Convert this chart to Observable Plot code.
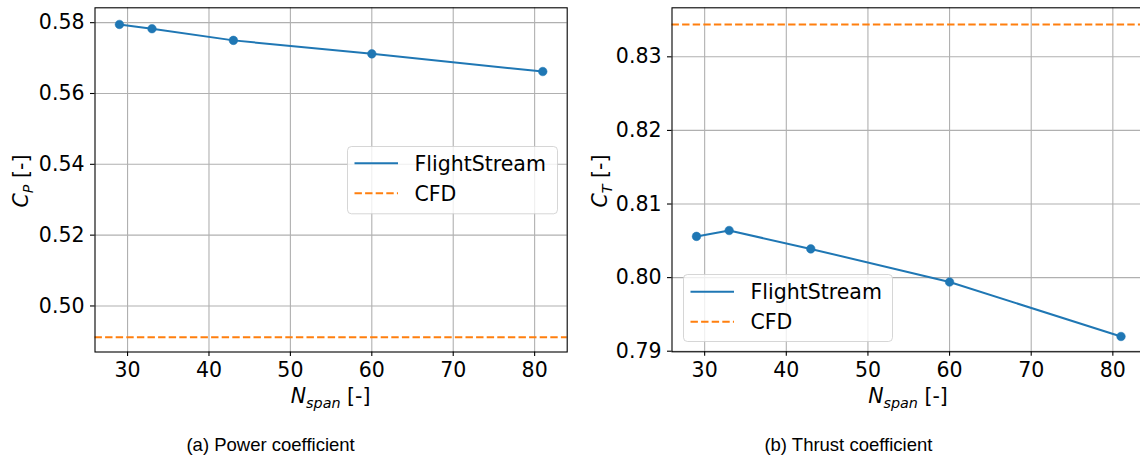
<!DOCTYPE html>
<html>
<head>
<meta charset="utf-8">
<script src="https://cdn.jsdelivr.net/npm/d3@7"></script>
<script src="https://cdn.jsdelivr.net/npm/@observablehq/plot@0.6"></script>
<style>
  html, body { margin: 0; padding: 0; background: #fff; }
  #root { position: relative; width: 1140px; height: 459px; overflow: hidden; background: #fff; }
  .panel { position: absolute; top: 0; }
  .caption { position: absolute; font-family: "Liberation Sans", Arial, sans-serif; font-size: 18.5px; line-height: 20px; white-space: nowrap; transform: translateX(-50%); color: #000; }
  .legend { position: absolute; }
</style>
</head>
<body>
<div id="root"></div>
<script>
// ---- data ----
const nspan = [29, 33, 43, 60, 81];
const cpFlightStream = [0.5795, 0.5783, 0.5750, 0.5712, 0.5662];
const ctFlightStream = [0.8056, 0.8064, 0.8039, 0.7994, 0.7920];
const cpCFD = 0.4912;
const ctCFD = 0.8344;
const xTicks = [30, 40, 50, 60, 70, 80];
const cpTicks = [0.50, 0.52, 0.54, 0.56, 0.58];
const ctTicks = [0.79, 0.80, 0.81, 0.82, 0.83];
const seriesNames = ["FlightStream", "CFD"];
const captions = ["(a) Power coefficient", "(b) Thrust coefficient"];
const yLabels = [["C", "P"], ["C", "T"]];

const BLUE = "#1f77b4", ORANGE = "#ff7f0e", GRID = "#b0b0b0";
const FONT = "DejaVu Sans";
const FS = 20.5;

const root = document.getElementById("root");

function makePanel(opts) {
  const data = nspan.map((n, i) => ({n, v: opts.values[i]}));
  const chart = Plot.plot({
    width: opts.width, height: 420,
    marginLeft: opts.ml, marginRight: opts.mr, marginTop: 7.3, marginBottom: opts.mb,
    style: {fontFamily: FONT, fontSize: FS + "px", color: "#000", background: "transparent", overflow: "visible"},
    x: {domain: [26, 84]},
    y: {domain: opts.yDomain},
    marks: [
      Plot.gridX(xTicks, {stroke: GRID, strokeOpacity: 1, strokeWidth: 1.1}),
      Plot.gridY(opts.ticks, {stroke: GRID, strokeOpacity: 1, strokeWidth: 1.1}),
      Plot.ruleY([opts.cfd], {stroke: ORANGE, strokeWidth: 2, strokeDasharray: "7.4,3.2"}),
      Plot.line(data, {x: "n", y: "v", stroke: BLUE, strokeWidth: 2}),
      Plot.dot(data, {x: "n", y: "v", r: 4.3, fill: BLUE, stroke: BLUE, strokeWidth: 0.5}),
      Plot.axisX(xTicks, {tickSize: 4.5, tickPadding: 6, label: null, fontSize: FS, stroke: "#000", strokeWidth: 1.1}),
      Plot.axisY(opts.ticks, {tickSize: 4.5, tickPadding: 6, label: null, fontSize: FS, tickFormat: d3.format(".2f"), stroke: "#000", strokeWidth: 1.1}),
      Plot.frame({stroke: "#000", strokeWidth: 1.1})
    ]
  });
  chart.classList.add("panel");
  chart.style.left = opts.left + "px";
  root.appendChild(chart);

  const svg = d3.select(chart);
  // x label: N_span [-]
  const xl = svg.append("text")
    .attr("x", opts.xLabelX).attr("y", 403)
    .attr("text-anchor", "middle")
    .attr("font-family", FONT).attr("font-size", FS).attr("fill", "#000")
    .attr("xml:space", "preserve").style("white-space", "pre");
  xl.append("tspan").attr("font-style", "italic").text("N");
  xl.append("tspan").attr("font-style", "italic").attr("font-size", FS * 0.7).attr("dy", 4.5).text("span");
  xl.append("tspan").attr("dy", -4.5).text(" [-]");

  // y label: C_x [-]
  const yl = svg.append("text")
    .attr("transform", `translate(${opts.yLabelX},${181}) rotate(-90)`)
    .attr("text-anchor", "middle")
    .attr("font-family", FONT).attr("font-size", FS).attr("fill", "#000")
    .attr("xml:space", "preserve").style("white-space", "pre");
  yl.append("tspan").attr("font-style", "italic").text(opts.yLabel[0]);
  yl.append("tspan").attr("font-style", "italic").attr("font-size", FS * 0.7).attr("dy", 4.5).text(opts.yLabel[1]);
  yl.append("tspan").attr("dy", -4.5).text(" [-]");
}

function makeLegend(left, top, w, h, y1, y2) {
  const div = document.createElement("div");
  div.className = "legend";
  div.style.left = left + "px";
  div.style.top = top + "px";
  root.appendChild(div);
  const s = d3.select(div).append("svg").attr("width", w + 2).attr("height", h + 2).style("display", "block");
  s.append("rect").attr("x", 0.5).attr("y", 0.5).attr("width", w).attr("height", h)
    .attr("rx", 4).attr("fill", "#fff").attr("fill-opacity", 0.8)
    .attr("stroke", "#cccccc").attr("stroke-opacity", 0.8).attr("stroke-width", 1);
  const ys = [y1, y2];
  const colors = [BLUE, ORANGE];
  seriesNames.forEach((name, i) => {
    s.append("line").attr("x1", 7.5).attr("x2", 51).attr("y1", ys[i]).attr("y2", ys[i])
      .attr("stroke", colors[i]).attr("stroke-width", 2)
      .attr("stroke-dasharray", i === 1 ? "7.4,3.2" : null);
    s.append("text").attr("x", 67.5).attr("y", ys[i] + 7.3)
      .attr("font-family", FONT).attr("font-size", FS).attr("fill", "#000").text(name);
  });
}

makePanel({left: 0, width: 580, ml: 94.5, mr: 13.3, mb: 68.5,
  values: cpFlightStream, cfd: cpCFD, ticks: cpTicks, yDomain: [0.4870, 0.5842],
  xLabelX: 330.6, yLabelX: 28, yLabel: yLabels[0]});
makePanel({left: 580, width: 570, ml: 91.5, mr: 5, mb: 68.7,
  values: ctFlightStream, cfd: ctCFD, ticks: ctTicks, yDomain: [0.78992, 0.83666],
  xLabelX: 328, yLabelX: 27, yLabel: yLabels[1]});

makeLegend(346.7, 146, 210, 67.3, 17.3, 47.3);
makeLegend(682.7, 274, 209, 67, 17.7, 47.7);

[[270.6, captions[0]], [848.4, captions[1]]].forEach(([cx, t]) => {
  const d = document.createElement("div");
  d.className = "caption";
  d.style.left = cx + "px";
  d.style.top = "435.3px";
  d.textContent = t;
  root.appendChild(d);
});
</script>
</body>
</html>
